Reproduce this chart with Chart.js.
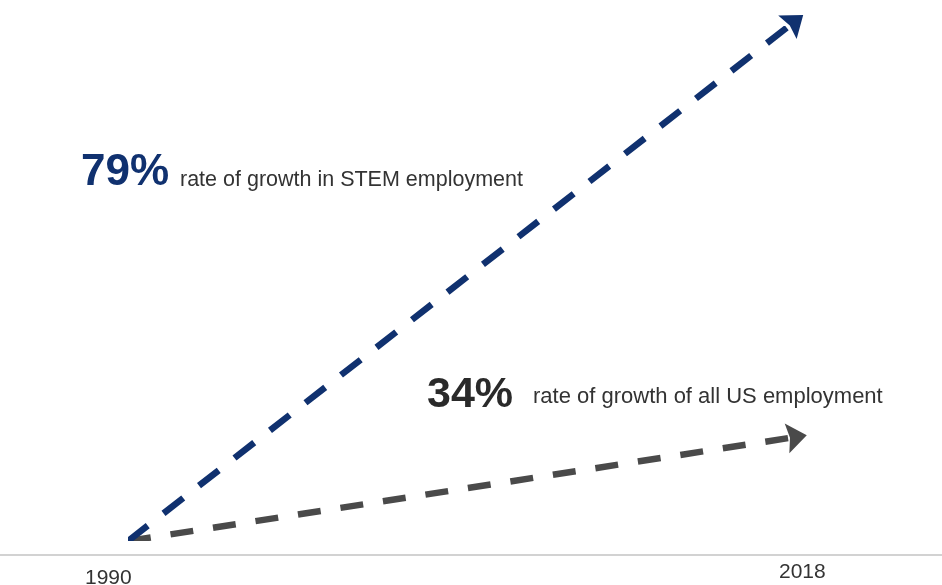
<!DOCTYPE html>
<html>
<head>
<meta charset="utf-8">
<script src="https://cdn.jsdelivr.net/npm/chart.js@4"></script>
<style>
  html, body { margin: 0; padding: 0; background: #fff; }
  #wrap { width: 942px; height: 585px; position: relative; }
</style>
</head>
<body>
<div id="wrap"><canvas id="growthChart" width="942" height="585"></canvas></div>
<script>
// data (y is the drawn height of each arrow, 0-100)
const years = [1990, 2018];
const stemLine = [0, 100];
const allUsLine = [0, 20];
const yearLabels = ['1990', '2018'];

const navy = '#10316f';
const grey = '#4a4a4a';

// arrowheads, baseline and text annotations
const decorations = {
    id: 'decorations',
    beforeDatasetsDraw(chart) {
        const ctx = chart.ctx;
        ctx.save();
        ctx.strokeStyle = '#d2d2d2';
        ctx.lineWidth = 2;
        ctx.beginPath();
        ctx.moveTo(0, 555);
        ctx.lineTo(chart.width, 555);
        ctx.stroke();
        ctx.restore();
    },
    afterDatasetsDraw(chart) {
        const ctx = chart.ctx;
        chart.data.datasets.forEach((ds, i) => {
            const pts = chart.getDatasetMeta(i).data;
            const a = pts[pts.length - 2], b = pts[pts.length - 1];
            const dx = b.x - a.x, dy = b.y - a.y;
            const len = Math.sqrt(dx * dx + dy * dy);
            const ux = dx / len, uy = dy / len;
            const nx = -uy, ny = ux;
            ctx.save();
            ctx.fillStyle = ds.borderColor;
            ctx.beginPath();
            ctx.moveTo(b.x + ux * 18, b.y + uy * 18);
            ctx.lineTo(b.x + nx * 15 - ux * 2, b.y + ny * 15 - uy * 2);
            ctx.lineTo(b.x + ux * 1, b.y + uy * 1);
            ctx.lineTo(b.x - nx * 15 - ux * 2, b.y - ny * 15 - uy * 2);
            ctx.closePath();
            ctx.fill();
            ctx.restore();
        });

        const x = chart.scales.x;
        ctx.save();
        ctx.textBaseline = 'alphabetic';
        ctx.textAlign = 'left';
        ctx.fillStyle = '#333';
        ctx.font = '21px "Liberation Sans", Arial, sans-serif';
        ctx.fillText(yearLabels[0], x.getPixelForValue(years[0]) - 43, 584);
        ctx.fillText(yearLabels[1], x.getPixelForValue(years[1]) - 10, 578);

        ctx.fillStyle = navy;
        ctx.font = 'bold 44px "Liberation Sans", Arial, sans-serif';
        ctx.fillText('79%', 81, 185);
        ctx.fillStyle = '#333';
        ctx.font = '21.5px "Liberation Sans", Arial, sans-serif';
        ctx.fillText('rate of growth in STEM employment', 180, 186);

        ctx.fillStyle = '#2a2a2a';
        ctx.font = 'bold 43px "Liberation Sans", Arial, sans-serif';
        ctx.fillText('34%', 427, 407);
        ctx.fillStyle = '#333';
        ctx.font = '22px "Liberation Sans", Arial, sans-serif';
        ctx.fillText('rate of growth of all US employment', 533, 403);
        ctx.restore();
    }
};

const ctx = document.getElementById('growthChart').getContext('2d');
new Chart(ctx, {
    type: 'line',
    data: {
        datasets: [
            {
                label: 'STEM employment',
                data: years.map((y, i) => ({ x: y, y: stemLine[i] })),
                borderColor: navy,
                borderWidth: 6.5,
                borderDash: [25, 20],
                borderCapStyle: 'butt',
                pointRadius: 0,
                tension: 0
            },
            {
                label: 'All US employment',
                data: years.map((y, i) => ({ x: y, y: allUsLine[i] })),
                borderColor: grey,
                borderWidth: 6.5,
                borderDash: [23, 20],
                borderCapStyle: 'butt',
                pointRadius: 0,
                tension: 0
            }
        ]
    },
    options: {
        responsive: false,
        animation: false,
        layout: { padding: { left: 128, right: 153, top: 26, bottom: 44 } },
        scales: {
            x: { type: 'linear', min: 1990, max: 2018, display: false },
            y: { min: 0, max: 100, display: false }
        },
        plugins: {
            legend: { display: false },
            tooltip: { enabled: false }
        }
    },
    plugins: [decorations]
});
</script>
</body>
</html>
